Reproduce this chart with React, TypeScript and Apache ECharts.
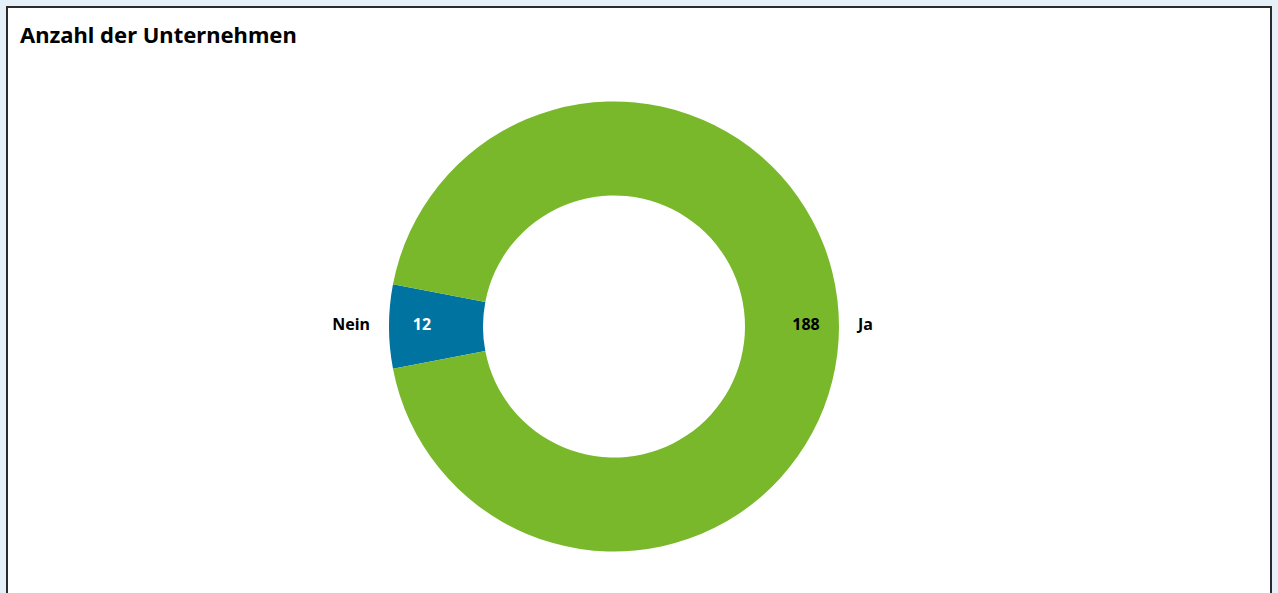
import React, { useEffect, useRef } from "react";
import * as echarts from "echarts";

const titleText = "Anzahl der Unternehmen";
const categories = ["Nein", "Ja"];
const values = [12, 188];
const colors = ["#0073a0", "#79b82a"];
const valueLabelColors = ["#ffffff", "#000000"];

const FONT = "'Noto Sans', sans-serif";

export default function App() {
  const ref = useRef<HTMLDivElement>(null);
  useEffect(() => {
    document.body.style.margin = "0";
    const chart = echarts.init(ref.current!, undefined, { renderer: "svg" });
    const total = values.reduce((a, b) => a + b, 0);
    const startAngle = 180 + (values[0] / total) * 360 / 2;
    const center = [614, 326.5];
    const labelCenter = [614, 324];
    const labelFont = { fontFamily: FONT, fontSize: 16, fontWeight: "bold" };
    chart.setOption({
      animation: false,
      title: {
        text: titleText,
        left: 15,
        top: 18,
        textStyle: { fontFamily: FONT, fontSize: 22, fontWeight: "bold", color: "#000" },
      },
      series: [
        {
          type: "pie",
          center,
          radius: [131, 225],
          startAngle,
          clockwise: true,
          silent: true,
          data: categories.map((c, i) => ({ name: c, value: values[i], itemStyle: { color: colors[i] } })),
          label: { show: false },
          labelLine: { show: false },
        },
        {
          type: "pie",
          center: labelCenter,
          radius: [131, 225],
          startAngle,
          clockwise: true,
          silent: true,
          data: categories.map((c, i) => ({ name: c, value: values[i], itemStyle: { color: "transparent" } })),
          label: {
            show: true,
            position: "outside",
            formatter: "{b}",
            ...labelFont,
            color: "#000",
            distanceToLabelLine: 5,
          },
          labelLine: { show: false, length: 14, length2: 0 },
        },
        {
          type: "pie",
          center: labelCenter,
          radius: [131, 247],
          startAngle,
          clockwise: true,
          silent: true,
          data: categories.map((c, i) => ({
            name: c,
            value: values[i],
            itemStyle: { color: "transparent" },
            label: { color: valueLabelColors[i] },
          })),
          label: {
            show: true,
            position: "inside",
            formatter: "{c}",
            ...labelFont,
          },
          labelLine: { show: false },
        },
      ],
    });
    return () => chart.dispose();
  }, []);
  return (
    <div style={{ position: "relative", width: 1278, height: 593, background: "#e6f0f8", overflow: "hidden" }}>
      <div
        style={{
          position: "absolute",
          left: 6,
          top: 6,
          width: 1262,
          height: 620,
          border: "2px solid #2b2b2b",
          background: "#ffffff",
        }}
      />
      <div ref={ref} style={{ position: "absolute", left: 0, top: 0, width: 1278, height: 593 }} />
    </div>
  );
}
